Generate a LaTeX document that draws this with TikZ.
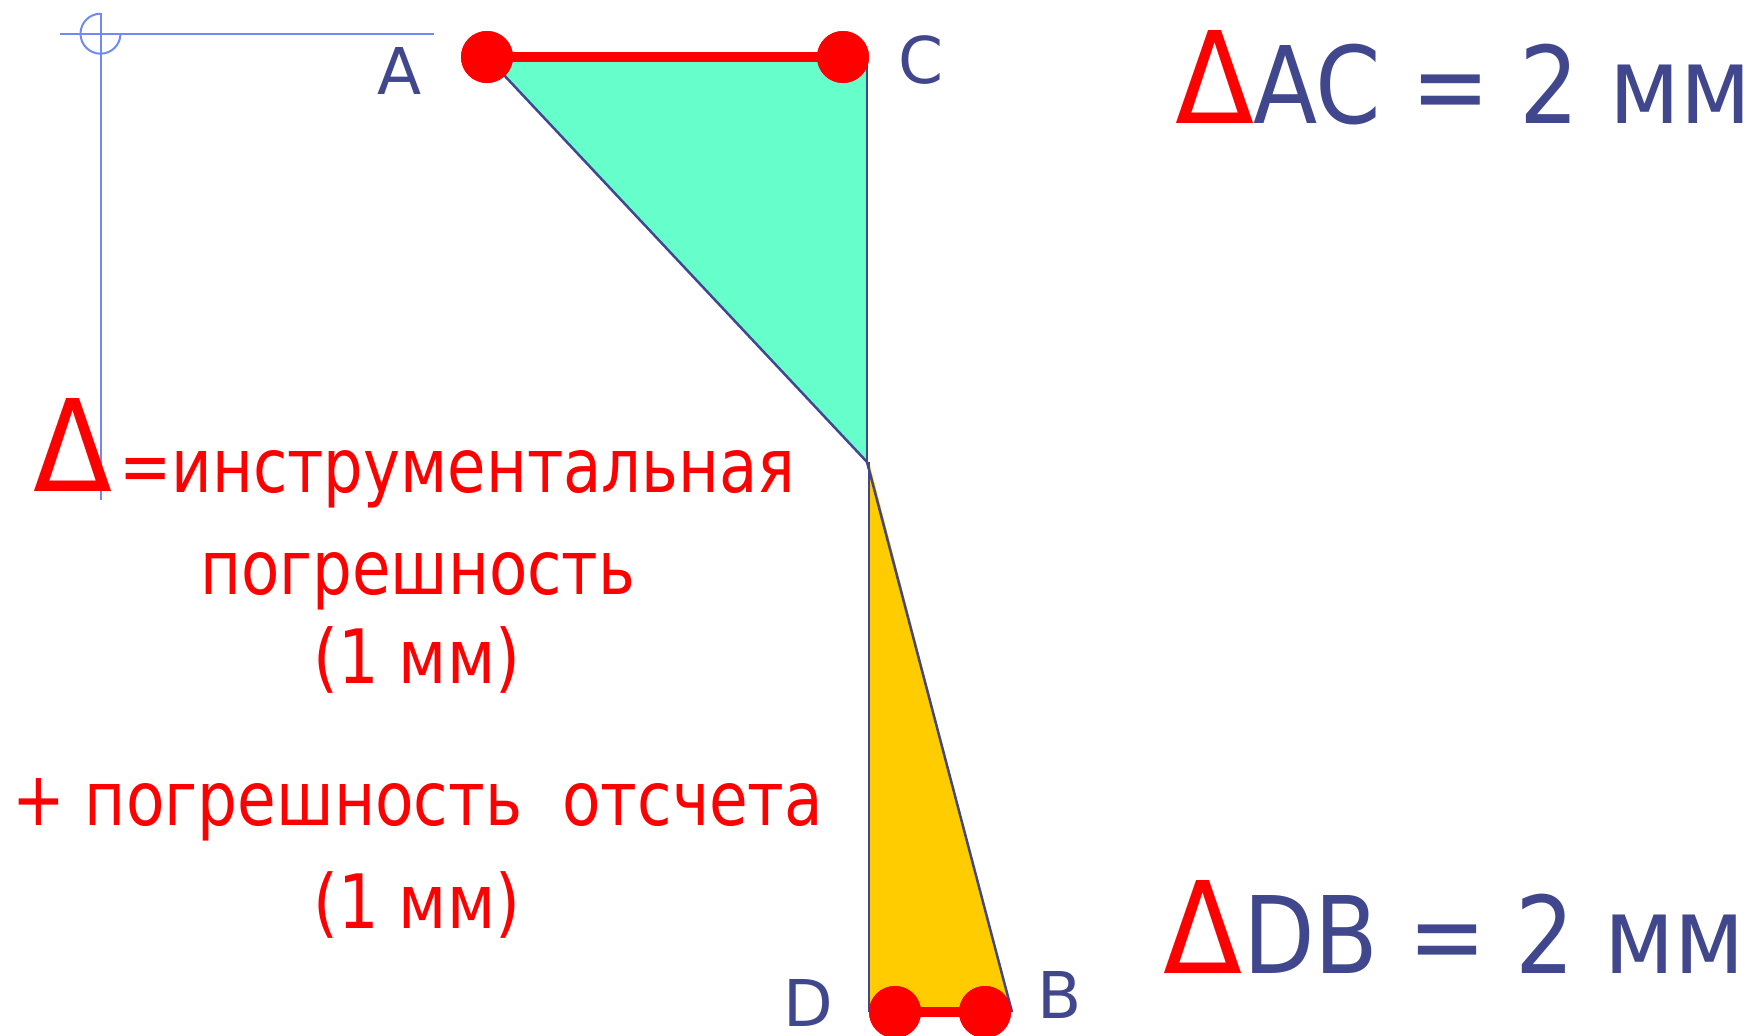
\documentclass[tikz,border=0pt]{standalone}
\usepackage{fontspec}
\setmainfont{DejaVu Sans}
\usepackage{graphicx}
\definecolor{navy}{HTML}{41478C}
\definecolor{tgreen}{HTML}{66FFCC}
\definecolor{tyellow}{HTML}{FFCC00}
\definecolor{tred}{HTML}{FF0000}
\definecolor{crossblue}{HTML}{6F8BF2}
\newsavebox\fitbox
\newdimen\fitdim
\newcommand\fitw[2]{\sbox\fitbox{#2}\fitdim=\wd\fitbox\pgfmathsetmacro\fitsx{#1/\fitdim}\scalebox{\fitsx}[1]{\usebox\fitbox}}
\newcommand\bigdelta{\resizebox{79pt}{93pt}{Δ}}
\tikzset{
  dot/.style={circle,fill=tred,draw=none,minimum size=52pt,inner sep=0pt},
  redbar/.style={draw=tred,line width=10pt},
  edge/.style={draw=navy,line width=2.5pt},
  cross/.style={draw=crossblue,line width=2pt},
  lbl/.style={text=navy,inner sep=0pt,anchor=base,font=\fontsize{64.5}{70}\selectfont},
  redtxt/.style={text=tred,inner sep=0pt,anchor=base west,font=\fontsize{75}{90}\selectfont},
  bluetxt/.style={text=navy,inner sep=0pt,anchor=base west,font=\fontsize{107}{120}\selectfont},
  deltatxt/.style={text=tred,inner sep=0pt,anchor=base west}
}
\begin{document}
\begin{tikzpicture}[x=1pt,y=-1pt]
\useasboundingbox (0,0) rectangle (1754,1036);
% crosshair
\coordinate (hl) at (60,33.7);
\coordinate (hr) at (434,33.7);
\coordinate (vt) at (100.5,12.7);
\coordinate (vb) at (100.5,500);
\coordinate (cc) at (100.5,33.7);
\draw[cross] (hl) -- (hr);
\draw[cross] (vt) -- (vb);
\draw[cross] ([shift={(0:20)}]cc) arc[start angle=0,end angle=270,radius=20];
% key points
\coordinate (pA) at (487,57);
\coordinate (pC) at (867,57);
\coordinate (pO) at (867,462);
\coordinate (pD) at (869,1012);
\coordinate (pB) at (1012,1012);
\coordinate (pOy) at (869,462);
% triangles
\fill[tgreen] (pA) -- (pC) -- (pO) -- cycle;
\fill[tyellow] (pOy) -- (pD) -- (pB) -- cycle;
\draw[edge] (pA) -- (pO);
\draw[edge] (pC) -- (pO);
\draw[edge] (pOy) -- (pD);
\draw[edge] (pO) -- (pB);
% dots
\node[dot] (A) at (487,57) {};
\node[dot] (C) at (843,57) {};
\node[dot] (D) at (895,1012) {};
\node[dot] (B) at (985,1012) {};
\draw[redbar] (A.center) -- (C.center);
\draw[redbar] (D.center) -- (B.center);
\node[dot] (A2) at (A.center) {};
\node[dot] (C2) at (C.center) {};
\node[dot] (D2) at (D.center) {};
\node[dot] (B2) at (B.center) {};
% labels
\node[lbl] (lA) at (400,94) {A};
\node[lbl] (lC) at (921.5,83) {C};
\node[lbl] (lD) at (808.5,1026) {D};
\node[lbl] (lB) at (1060,1018) {B};
% right formulas
\node[deltatxt] (d1) at (1175,123) {\bigdelta};
\node[bluetxt] (f1) at (1253,123) {\fitw{498}{AC = 2 мм}};
\node[deltatxt] (d2) at (1163,973) {\bigdelta};
\node[bluetxt] (f2) at (1243,973) {\fitw{502}{DB = 2 мм}};
% left text
\node[deltatxt] (d3) at (33,491) {\bigdelta};
\node[redtxt] (t1) at (119,492) {\fitw{676}{=инструментальная}};
\node[redtxt] (t2) at (200,594) {\fitw{435}{погрешность}};
\node[redtxt] (t3) at (313,683) {\fitw{207}{(1 мм)}};
\node[redtxt] (t4) at (12,825) {\fitw{811}{+ погрешность~~отсчета}};
\node[redtxt] (t5) at (313,928) {\fitw{207}{(1 мм)}};
\end{tikzpicture}
\end{document}
